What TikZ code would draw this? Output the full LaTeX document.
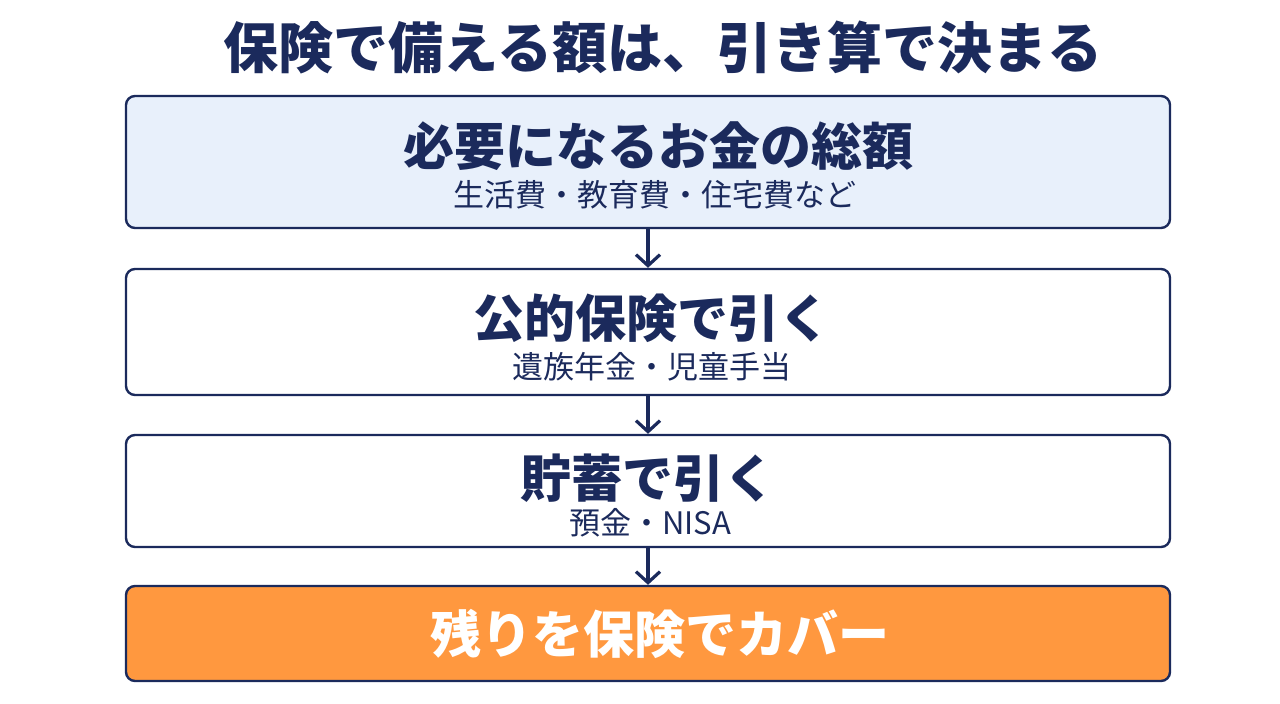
\documentclass[tikz,border=0pt]{standalone}
\usepackage{fontspec}
\newfontfamily\jp{Noto Sans CJK JP}
\usetikzlibrary{arrows.meta}
\definecolor{navy}{HTML}{1B2A5C}
\definecolor{paleblue}{HTML}{E8F0FB}
\definecolor{orangebox}{HTML}{FF983F}
\begin{document}
\begin{tikzpicture}[x=1pt,y=-1pt]
\tikzstyle{stage}=[rectangle,rounded corners=9pt,draw=navy,line width=2.4pt,minimum width=1044pt,inner sep=0pt]
\tikzstyle{head}=[text=navy,font=\jp\bfseries\fontsize{51}{56}\selectfont,inner sep=0pt]
\tikzstyle{sub}=[text=navy,font=\jp\fontsize{31}{34}\selectfont,inner sep=0pt]
\tikzstyle{flow}=[draw=navy,line width=3.2pt,-{Straight Barb[length=11pt,width=24pt,line width=3.2pt]}]
\useasboundingbox (0,0) rectangle (1280,704);
\node [head,font=\jp\bfseries\fontsize{55}{60}\selectfont] (title) at (663,47) {保険で備える額は、引き算で決まる};
\node [stage,fill=paleblue,minimum height=132pt] (need) at (648,162) {};
\node [stage,fill=white,minimum height=126pt] (public) at (648,332) {};
\node [stage,fill=white,minimum height=112pt] (saving) at (648,491) {};
\node [stage,fill=orangebox,minimum height=95pt] (rest) at (648,633.5) {};
\node [head] (needhead) at (658,146) {必要になるお金の総額};
\node [sub] (needsub) at (655,195) {生活費・教育費・住宅費など};
\node [head] (publichead) at (652,318) {公的保険で引く};
\node [sub] (publicsub) at (652,367) {遺族年金・児童手当};
\node [head] (savinghead) at (648,478) {貯蓄で引く};
\node [sub] (savingsub) at (650,523) {預金・NISA};
\node [head,text=white] (resthead) at (660,634) {残りを保険でカバー};
\draw [flow] (need.south) -- (public.north);
\draw [flow] (public.south) -- (saving.north);
\draw [flow] (saving.south) -- (rest.north);
\end{tikzpicture}
\end{document}
